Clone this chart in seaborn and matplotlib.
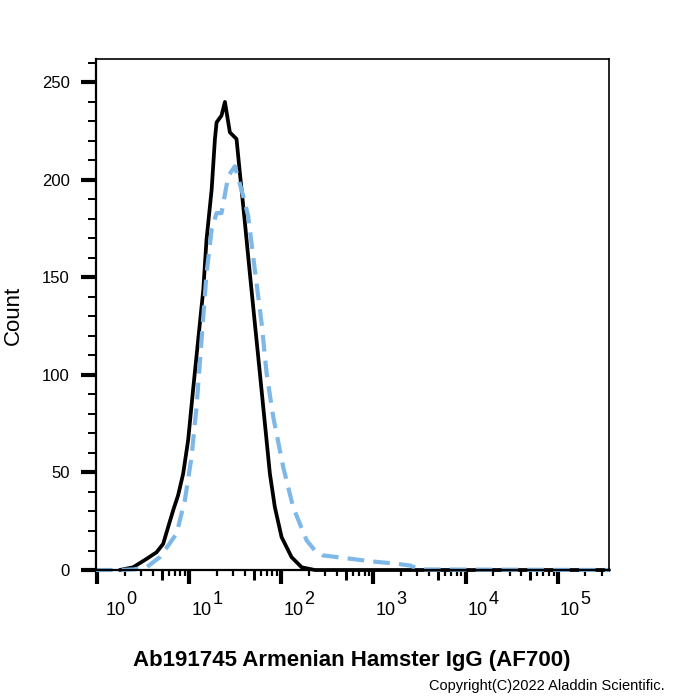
import numpy as np
import pandas as pd
import seaborn as sns
import matplotlib.pyplot as plt
from matplotlib.ticker import FixedLocator, NullFormatter

# 데이터: 형광 세기(x, 로그축)와 세포 수(count)
black_x = [1.76, 2.46, 3.44, 4.42, 5.21, 5.90, 6.69, 7.57, 8.59, 9.73, 11.0, 12.5,
           14.2, 15.4, 17.5, 19.0, 19.8, 22.4, 24.4, 27.6, 32.6, 35.4, 40.2, 45.5,
           51.5, 58.4, 66.2, 75.0, 84.9, 100.5, 129, 166, 231, 360000]
black_y = [0, 1.4, 5.7, 9.1, 13.4, 22.0, 30.6, 38.3, 49.4, 66.6, 92.3, 118,
           143.6, 169.4, 195, 221, 229.5, 233, 240, 224.4, 221, 203.8, 178, 152,
           126.6, 101, 75.2, 49.5, 32.3, 16.9, 6.6, 1.4, 0, 0]

blue_x = [0.97, 1.75, 2.5, 3.44, 4.8, 7.28, 8.96, 10.6, 12.0, 13.6, 15.4, 17.5,
          19.8, 22.4, 26.5, 31.3, 38.5, 43.6, 51.5, 61.0, 69.1, 81.5, 104.6, 134,
          188, 231, 282, 555, 961, 1795, 2485, 3190, 360000]
blue_y = [0, 0, 0.3, 1.4, 6.6, 18.6, 35.8, 58, 83.7, 118, 152, 174.6,
          183, 183, 202, 207, 191.8, 181.5, 154, 126.6, 101, 78.6, 52.9, 32.3,
          15.2, 10, 7.5, 5.8, 4.4, 3.2, 2.3, 0.3, 0]

decades = [0, 1, 2, 3, 4, 5]
y_major = [0, 50, 100, 150, 200, 250]

x_label = 'Ab191745 Armenian Hamster IgG (AF700)'
y_label = 'Count'
copyright_text = 'Copyright(C)2022 Aladdin Scientific.'

sns.set_style('ticks')
plt.rcParams['font.family'] = ['Liberation Sans', 'DejaVu Sans']
plt.rcParams['text.color'] = 'black'
plt.rcParams['axes.edgecolor'] = 'black'
plt.rcParams['xtick.color'] = 'black'
plt.rcParams['ytick.color'] = 'black'

fig = plt.figure(figsize=(7, 7), dpi=100)
ax = fig.add_axes([0.137, 0.1857, 0.733, 0.730])

black_df = pd.DataFrame({'x': black_x, 'count': black_y})
blue_df = pd.DataFrame({'x': blue_x, 'count': blue_y})

sns.lineplot(data=black_df, x='x', y='count', ax=ax, color='black', lw=2.7,
             clip_on=False)
sns.lineplot(data=blue_df, x='x', y='count', ax=ax, color='#7db8e8', lw=3.0,
             clip_on=False)
ax.lines[-1].set_dashes((4.0, 2.2))

ax.set_xscale('log')
ax.set_xlim(0.97, 3.6e5)
ax.set_ylim(0, 262)

# x축: 10^k 굵은 눈금, 5x10^k 중간 눈금, 나머지 짧은 눈금
ax.xaxis.set_major_locator(FixedLocator([10.0 ** k for k in decades]))
ax.xaxis.set_minor_locator(FixedLocator(
    [m * 10.0 ** k for k in decades for m in (2, 3, 4, 6, 7, 8, 9)]))
ax.xaxis.set_major_formatter(NullFormatter())
ax.xaxis.set_minor_formatter(NullFormatter())
ax.tick_params(axis='x', which='major', length=10, width=3, direction='out')
ax.tick_params(axis='x', which='minor', length=4, width=1.6, direction='out')

sec = ax.secondary_xaxis('bottom')
sec.set_xticks([5 * 10.0 ** k for k in decades])
sec.xaxis.set_minor_locator(FixedLocator([]))
sec.set_xticklabels([])
sec.tick_params(length=7, width=2.2, direction='out', color='black')
sec.spines['bottom'].set_visible(False)

# y축
ax.set_yticks(y_major)
ax.set_yticks(np.arange(0, 261, 10), minor=True)
ax.tick_params(axis='y', which='major', length=11, width=3, direction='out',
               labelsize=12, pad=8)
ax.tick_params(axis='y', which='minor', length=6, width=1.4, direction='out')
ax.set_ylabel('')
ax.set_xlabel('')

for side in ['top', 'right']:
    ax.spines[side].set_linewidth(1.2)
ax.spines['left'].set_linewidth(1.6)
ax.spines['bottom'].set_linewidth(1.6)

# 10^k 라벨 (위첨자 숫자도 같은 크기)
for k in decades:
    dx = 6 if k == 0 else 1.5
    ax.annotate('10', xy=(10.0 ** k, 0), xycoords=('data', 'axes fraction'),
                xytext=(dx, -29), textcoords='offset points',
                ha='left', va='center', fontsize=13, annotation_clip=False)
    ax.annotate(str(k), xy=(10.0 ** k, 0), xycoords=('data', 'axes fraction'),
                xytext=(dx + 15, -21), textcoords='offset points',
                ha='left', va='center', fontsize=13, annotation_clip=False)

fig.text(0.503, 0.057, x_label, ha='center', va='center', fontsize=16,
         fontweight='bold')
fig.text(0.019, 0.55, y_label, ha='center', va='center', rotation=90,
         fontsize=16)
fig.text(0.95, 0.02, copyright_text, ha='right', va='center', fontsize=10.5)

fig.savefig('out.png', dpi=100, facecolor='white')
